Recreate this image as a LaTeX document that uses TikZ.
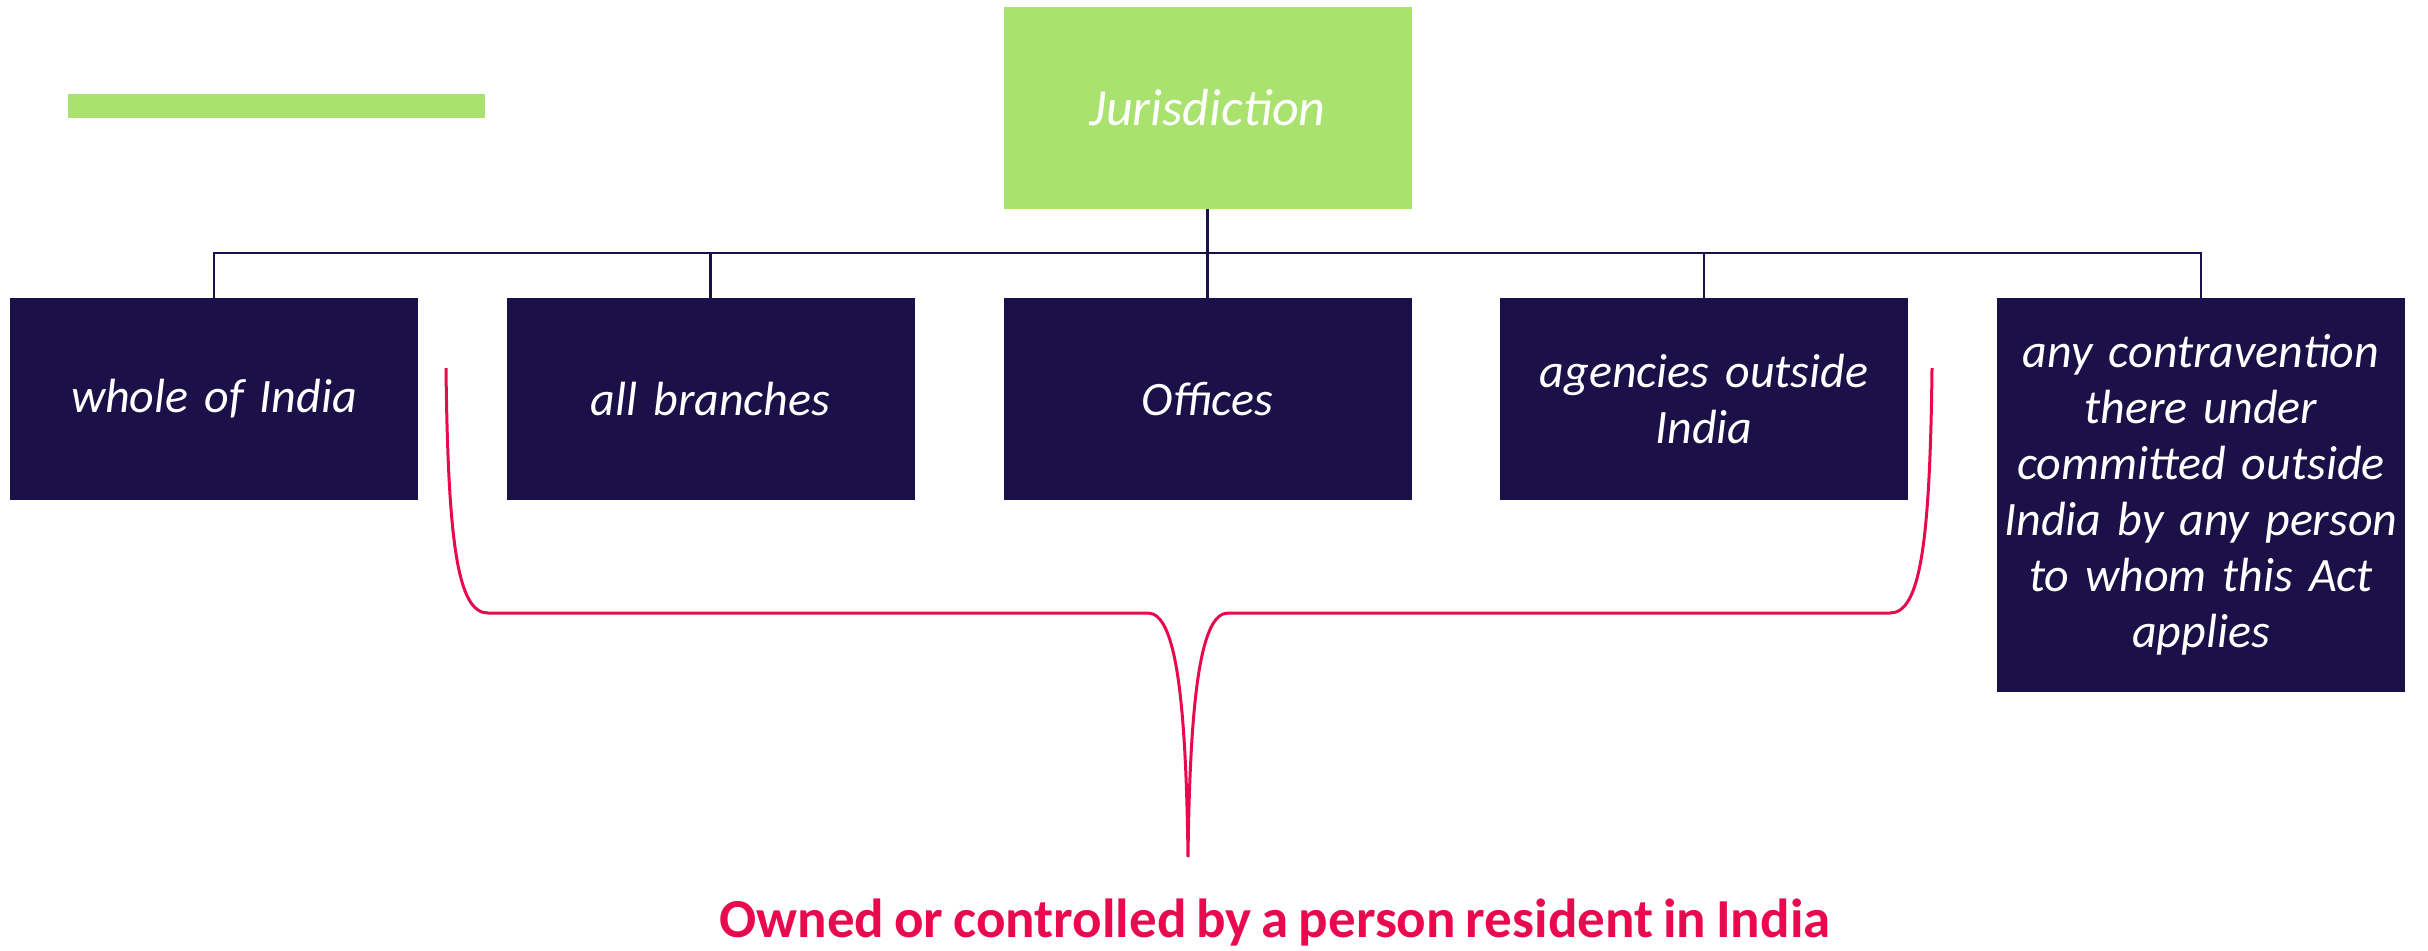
\documentclass[tikz,border=0pt]{standalone}
\usepackage{fontspec}
\setmainfont{Carlito}[WordSpace=0.8]
\definecolor{navy}{RGB}{27,16,72}
\definecolor{lgreen}{RGB}{169,226,111}
\definecolor{cred}{RGB}{232,9,79}
\begin{document}
\begin{tikzpicture}[x=0.5pt,y=-0.5pt,
  dbox/.style={fill=navy, draw=none, minimum width=204pt, minimum height=101pt, text width=204pt, align=center, text=white, inner sep=0pt, font=\fontsize{24}{28}\selectfont\itshape},
  gbox/.style={fill=lgreen, draw=none, minimum width=204pt, minimum height=101pt, text width=204pt, align=center, text=white, inner sep=0pt, font=\fontsize{26}{30}\selectfont\itshape},
  conn/.style={draw=navy, line width=1.2pt},
  brace/.style={draw=cred, line width=1.5pt}]
\useasboundingbox (0,0) rectangle (2428,950);
\fill[lgreen] (68,94) rectangle (485,118);
\node[gbox] (jur) at (1207.5,108) {Jurisdiction};
\node[dbox] (b1) at (214,399) {whole of India};
\node[dbox] (b2) at (710.5,399) {all branches};
\node[dbox] (b3) at (1207.5,399) {Offices};
\node[dbox] (b4) at (1704,399) {agencies outside\\India};
\node[dbox, minimum height=197pt] (b5) at (2201,495) {any contravention\\there under\\committed outside\\India by any person\\to whom this Act\\applies};
\coordinate (bus) at (0,253);
\foreach \n in {b1,b2,b3,b4,b5}
  \draw[conn] (jur.south) -- (jur.south |- bus) -| (\n.north);
\coordinate (tip) at (1188,857);
\draw[brace] (446,368) .. controls (448,545) and (458,613) .. (488,613) -- (1148,613)
  .. controls (1176,613) and (1186,700) .. (tip)
  .. controls (1190,700) and (1200,613) .. (1228,613) -- (1890,613)
  .. controls (1920,613) and (1930,545) .. (1932,368);
\node[anchor=base, text=cred, font=\fontsize{27.5}{32}\selectfont\bfseries, inner sep=0pt] (lbl) at (1275,937) {Owned or controlled by a person resident in India};
\end{tikzpicture}
\end{document}
